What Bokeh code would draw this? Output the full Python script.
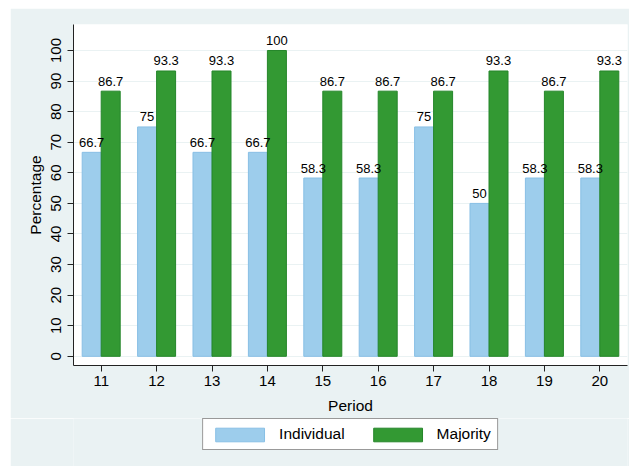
import math
from bokeh.plotting import figure
from bokeh.layouts import column
from bokeh.models import ColumnDataSource, Range1d, FixedTicker, Legend, LegendItem
from bokeh.core.properties import value
from bokeh.embed import file_html
from bokeh.resources import INLINE

periods = [11, 12, 13, 14, 15, 16, 17, 18, 19, 20]
individual = [66.7, 75, 66.7, 66.7, 58.3, 58.3, 75, 50, 58.3, 58.3]
majority = [86.7, 93.3, 93.3, 100, 86.7, 86.7, 86.7, 93.3, 86.7, 93.3]
series_names = ["Individual", "Majority"]
y_ticks = [0, 10, 20, 30, 40, 50, 60, 70, 80, 90, 100]

FONT = "Liberation Sans"
BG = "#EAF2F3"
BAR_W = 0.343
OFF = BAR_W / 2
IND_STYLE = dict(fill_color="#9DCDEC", line_color="#88BFE5", line_width=1)
MAJ_STYLE = dict(fill_color="#339933", line_color="#25862A", line_width=1)

src_i = ColumnDataSource(dict(
    x=[p - OFF for p in periods], top=individual,
    lab=[f"{v:g}" for v in individual]))
src_m = ColumnDataSource(dict(
    x=[p + OFF for p in periods], top=majority,
    lab=[f"{v:g}" for v in majority]))

p = figure(width=619, height=410, output_backend="svg", toolbar_location=None,
           x_range=Range1d(10.5, 20.5), y_range=Range1d(-3, 108.5),
           min_border_left=63, min_border_right=2, min_border_top=16,
           min_border_bottom=53)
p.margin = (8, 0, 0, 10)
p.background_fill_color = "white"
p.border_fill_color = BG
p.outline_line_color = None

p.vbar(x="x", top="top", bottom=0, width=BAR_W, source=src_i, **IND_STYLE)
p.vbar(x="x", top="top", bottom=0, width=BAR_W, source=src_m, **MAJ_STYLE)

for s in (src_i, src_m):
    p.text(x="x", y="top", text="lab", source=s, text_align="center",
           text_baseline="alphabetic", y_offset=-10,
           text_font=value(FONT), text_font_size="13px", text_color="black")

# axes
p.xaxis.ticker = FixedTicker(ticks=periods)
p.yaxis.ticker = FixedTicker(ticks=y_ticks)
p.xaxis.axis_label = "Period"
p.yaxis.axis_label = "Percentage"
for ax in (p.xaxis, p.yaxis):
    ax.axis_line_color = "#222222"
    ax.axis_line_width = 1
    ax.major_tick_line_color = "#222222"
    ax.major_tick_in = 0
    ax.major_tick_out = 6
    ax.minor_tick_line_color = None
    ax.major_label_text_font = FONT
    ax.major_label_text_font_size = "15px"
    ax.major_label_text_color = "black"
    ax.axis_label_text_font = FONT
    ax.axis_label_text_font_size = "15.5px"
    ax.axis_label_text_font_style = "normal"
    ax.axis_label_text_color = "black"
p.xaxis.major_label_standoff = 4
p.xaxis.axis_label_standoff = 8
p.yaxis.major_label_orientation = "vertical"
p.yaxis.major_label_standoff = 6
p.yaxis.axis_label_standoff = 5

p.xgrid.grid_line_color = None
p.ygrid.grid_line_color = BG
p.ygrid.grid_line_width = 1

# legend strip below the chart
pl = figure(width=619, height=48, output_backend="svg", toolbar_location=None,
            x_axis_type=None, y_axis_type=None,
            x_range=Range1d(0, 1), y_range=Range1d(0, 1),
            min_border_left=63, min_border_right=2, min_border_top=0,
            min_border_bottom=0)
pl.margin = (0, 0, 0, 10)
pl.background_fill_color = BG
pl.border_fill_color = BG
pl.outline_line_color = None
# proxy glyphs for the legend swatches (hidden under the legend box)
hidden = dict(x=[0.5], top=[0.9])
li = pl.vbar(x="x", top="top", bottom=0.5, width=0.05,
             source=ColumnDataSource(dict(hidden)), **IND_STYLE)
lm = pl.vbar(x="x", top="top", bottom=0.5, width=0.05,
             source=ColumnDataSource(dict(hidden)), **MAJ_STYLE)

legend = Legend(items=[LegendItem(label=series_names[0], renderers=[li]),
                       LegendItem(label=series_names[1], renderers=[lm])],
                orientation="horizontal", location="top_center",
                glyph_width=61, glyph_height=17, label_standoff=9,
                spacing=22, padding=6, margin=0,
                border_line_color="#333333", border_line_width=1.5,
                background_fill_color="white", background_fill_alpha=1,
                label_text_font=FONT, label_text_font_size="15.5px",
                label_text_color="black")
pl.add_layout(legend, "center")

layout = column(p, pl, spacing=0)
open("out.html", "w").write(file_html(layout, INLINE))
